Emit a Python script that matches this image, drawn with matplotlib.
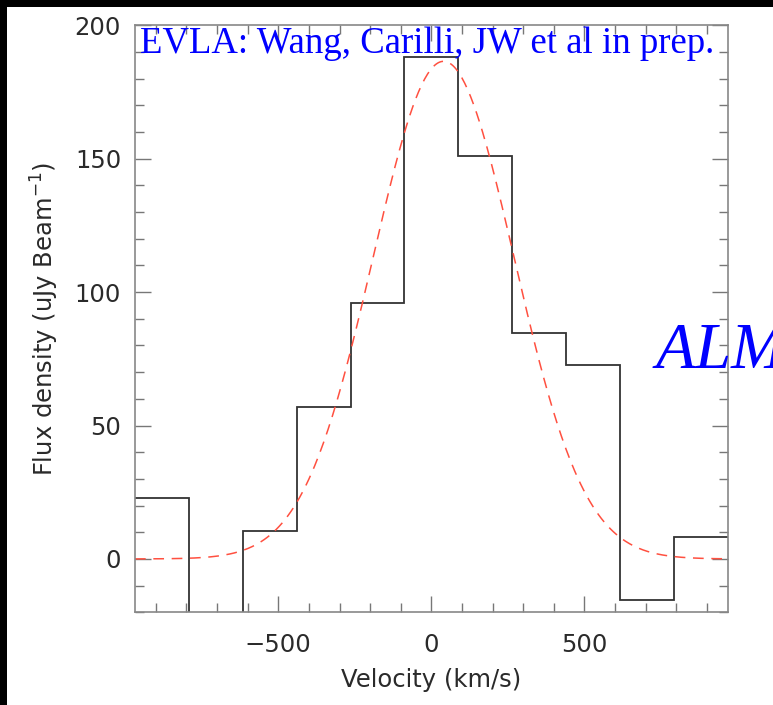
import numpy as np
import matplotlib
matplotlib.use('Agg')
import matplotlib.pyplot as plt
from matplotlib.ticker import MultipleLocator

# ========================
# 数据
# ========================
# 速度通道边界 (km/s)
vel_edges = [-968, -792, -616, -440, -264, -88, 88, 264, 440, 616, 792, 968]
# 每个通道的流量密度 (uJy/beam)，第二个通道低于下限
flux = [23, -40, 10.5, 57, 96, 188, 151, 84.7, 72.8, -15.4, 8.1]

# 高斯拟合参数
fit_amp = 186.5
fit_center = 40.0
fit_sigma = 230.0

vel_range = (-968, 968)
flux_range = (-20, 200)

# ========================
# 绘图
# ========================
fig = plt.figure(figsize=(7.73, 7.05), dpi=100)
fig.patch.set_facecolor('white')

# 左侧和顶部的黑边
fig.patches.append(plt.Rectangle((0, 0), 7.3 / 773, 1, transform=fig.transFigure,
                                 facecolor='black', edgecolor='none', zorder=10))
fig.patches.append(plt.Rectangle((0, 1 - 7.3 / 705), 1, 7.3 / 705, transform=fig.transFigure,
                                 facecolor='black', edgecolor='none', zorder=10))

ax = fig.add_axes([135 / 773, 1 - 612.3 / 705, (727.7 - 135) / 773, (612.3 - 25.3) / 705])

ax.stairs(flux, vel_edges, baseline=None, color='#333333', linewidth=1.3)

v = np.linspace(vel_range[0], vel_range[1], 400)
model = fit_amp * np.exp(-(v - fit_center) ** 2 / (2 * fit_sigma ** 2))
ax.plot(v, model, color='#ff5040', linestyle=(0, (7, 5)), linewidth=1.1)

ax.set_xlim(*vel_range)
ax.set_ylim(*flux_range)

ax.xaxis.set_major_locator(MultipleLocator(500))
ax.xaxis.set_minor_locator(MultipleLocator(100))
ax.yaxis.set_major_locator(MultipleLocator(50))
ax.yaxis.set_minor_locator(MultipleLocator(10))

ax.tick_params(which='both', direction='in', top=True, right=True,
               color='#777777', width=1.0, labelsize=17.5, labelcolor='#2a2a2a')
ax.tick_params(which='major', length=11.5, pad=10)
ax.tick_params(axis='x', which='major', pad=15)
ax.tick_params(which='minor', length=6.5)

for s in ax.spines.values():
    s.set_color('#888888')
    s.set_linewidth(1.2)

ax.set_xlabel('Velocity (km/s)', fontsize=17.5, color='#2a2a2a', labelpad=8)
ax.set_ylabel('Flux density (uJy Beam$^{-1}$)', fontsize=17.5, color='#2a2a2a', labelpad=10)

fig.text(140 / 773, 1 - 53.3 / 705, 'EVLA: Wang, Carilli, JW et al in prep.',
         family='Liberation Serif', fontsize=26.5, color='#0000ff', va='baseline', ha='left')
fig.text(656 / 773, 1 - 368 / 705, 'ALMA', family='Liberation Serif', style='italic',
         fontsize=47, color='#0000ff', va='baseline', ha='left')

plt.savefig('out.png', dpi=100, facecolor='white')
